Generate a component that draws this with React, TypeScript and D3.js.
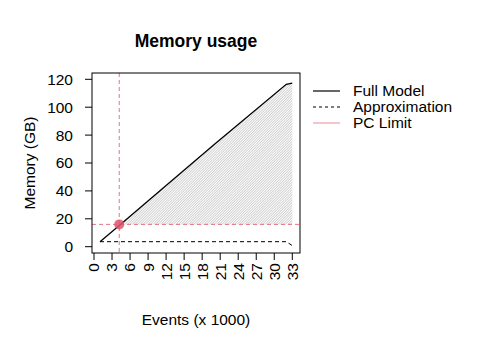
import { useMemo } from "react";
import * as d3 from "d3";

// events (x 1000) and memory in GB
const events = [1, 4.4, 10, 20, 32, 33];
const fullModel = [3.6, 16, 36.6, 73.2, 116.4, 117.2];
const approxEvents = [1, 10, 20, 32, 33];
const approximation = [3.6, 3.6, 3.6, 3.6, 0.8];
const pcLimit = 16;
const pcEvents = 4.2;
const xTicks = d3.range(0, 34, 3);
const yTicks = [0, 20, 40, 60, 80, 100, 120];
const legendItems = [
  { label: "Full Model", color: "#000000", dash: "none", opacity: 1 },
  { label: "Approximation", color: "#000000", dash: "3,3", opacity: 1 },
  { label: "PC Limit", color: "#DF536B", dash: "none", opacity: 0.55 },
];

const font = "'Liberation Sans', Arial, Helvetica, sans-serif";
const red = "#DF536B";

export default function App() {
  const box = { left: 92, right: 300, top: 73, bottom: 253 };

  const x = useMemo(() => d3.scaleLinear().domain([0, 33]).range([94, 292.3]), []);
  const y = useMemo(() => d3.scaleLinear().domain([0, 120]).range([246.7, 79.3]), []);

  const fullLine = d3
    .line<number>()
    .x((_, i) => x(events[i]))
    .y((d) => y(d))(fullModel) ?? "";
  const approxLine = d3
    .line<number>()
    .x((_, i) => x(approxEvents[i]))
    .y((d) => y(d))(approximation) ?? "";

  // shaded area between the PC limit and the full model, from the crossing point on
  const shade = events
    .map((e, i) => ({ e, v: fullModel[i] }))
    .filter((d) => d.v >= pcLimit);
  const shadeArea = d3
    .area<{ e: number; v: number }>()
    .x((d) => x(d.e))
    .y0(y(pcLimit))
    .y1((d) => y(d.v))(shade) ?? "";

  return (
    <svg width={485} height={346} style={{ position: "absolute", left: 0, top: 0, background: "#fff" }} fontFamily={font}>
      <defs>
        <pattern id="hatch" patternUnits="userSpaceOnUse" width={1.8} height={1.8} patternTransform="rotate(45)">
          <line x1={0} y1={0} x2={0} y2={1.8} stroke="#8a8a8a" strokeWidth={0.75} />
        </pattern>
      </defs>
      <rect width={485} height={346} fill="#fff" />
      <text x={196} y={47} textAnchor="middle" fontSize={17.5} fontWeight="bold">
        Memory usage
      </text>

      <path d={shadeArea} fill="url(#hatch)" />

      {/* PC limit */}
      <line x1={box.left} x2={box.right} y1={y(pcLimit)} y2={y(pcLimit)} stroke={red} strokeWidth={1} strokeDasharray="4,3" opacity={0.8} />
      <line x1={x(pcEvents)} x2={x(pcEvents)} y1={box.top} y2={box.bottom} stroke={red} strokeWidth={1} strokeDasharray="4,3" opacity={0.8} />

      <path d={approxLine} fill="none" stroke="#000" strokeWidth={1} strokeDasharray="4,3" />
      <path d={fullLine} fill="none" stroke="#000" strokeWidth={1.3} />
      <circle cx={x(pcEvents)} cy={y(pcLimit)} r={5} fill={red} opacity={0.85} />

      <rect x={box.left} y={box.top} width={box.right - box.left} height={box.bottom - box.top} fill="none" stroke="#000" strokeWidth={1} />

      {/* y axis */}
      {yTicks.map((t) => (
        <g key={t}>
          <line x1={box.left - 7} x2={box.left} y1={y(t)} y2={y(t)} stroke="#000" />
          <text x={box.left - 19} y={y(t)} dy="0.35em" textAnchor="end" fontSize={15.5}>
            {t}
          </text>
        </g>
      ))}
      <text transform={`translate(35,163) rotate(-90)`} textAnchor="middle" fontSize={15.5}>
        Memory (GB)
      </text>

      {/* x axis */}
      {xTicks.map((t) => (
        <g key={t}>
          <line x1={x(t)} x2={x(t)} y1={box.bottom} y2={box.bottom + 7} stroke="#000" />
          <text transform={`translate(${x(t)},${box.bottom + 10}) rotate(-90)`} dy="0.35em" textAnchor="end" fontSize={15.5}>
            {t}
          </text>
        </g>
      ))}
      <text x={196} y={325} textAnchor="middle" fontSize={15.5}>
        Events (x 1000)
      </text>

      {/* legend */}
      {legendItems.map((item, i) => (
        <g key={item.label} transform={`translate(313,${91 + i * 16})`}>
          <line x1={0} x2={27} y1={0} y2={0} stroke={item.color} strokeDasharray={item.dash} strokeWidth={1.2} opacity={item.opacity} />
          <text x={40} y={0} dy="0.35em" fontSize={15.5}>
            {item.label}
          </text>
        </g>
      ))}
    </svg>
  );
}
